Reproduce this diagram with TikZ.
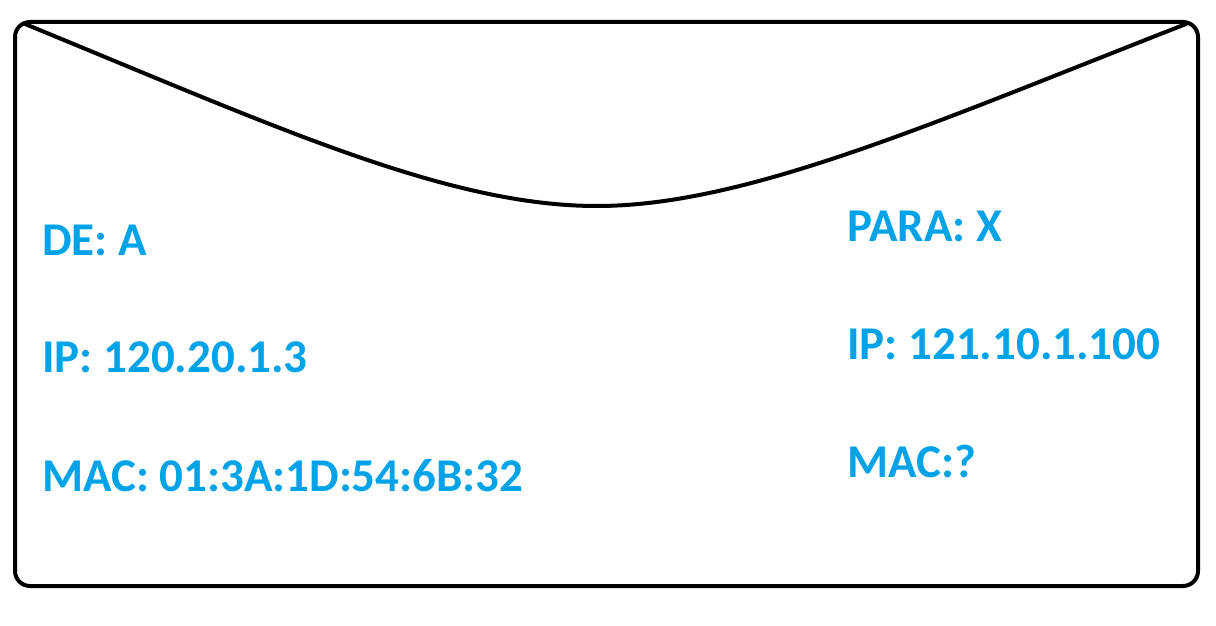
\documentclass[tikz,border=0pt]{standalone}
\usepackage{fontspec}
\setmainfont{Carlito}
\definecolor{txtblue}{RGB}{0,162,232}
\tikzset{
  lbl/.style={anchor=base west, inner sep=0pt, text=txtblue, font=\fontsize{47}{56}\selectfont\bfseries},
  outline/.style={draw=black, line width=4pt, rounded corners=15pt},
  flap/.style={draw=black, line width=4pt, line cap=round}
}
\begin{document}
\begin{tikzpicture}[x=1pt,y=-1pt]
\useasboundingbox (0,0) rectangle (1216,626);
\draw[outline] (15,22) rectangle (1198,586);
\coordinate (fl) at (25,24);
\coordinate (fm) at (597,206);
\coordinate (fr) at (1186,24);
\draw[flap] (fl) .. controls (275,126.5) and (447,206) .. (fm)
  .. controls (747,206) and (936,121.5) .. (fr);
\node[lbl] (de) at (42,255) {DE: A};
\node[lbl] (ipa) at (42,372) {IP: 120.20.1.3};
\node[lbl] (maca) at (42,491) {MAC: 01:3A:1D:54:6B:32};
\node[lbl] (para) at (847,241) {PARA: X};
\node[lbl] (ipx) at (847,359) {IP: 121.10.1.100};
\node[lbl] (macx) at (847,477) {MAC:?};
\end{tikzpicture}
\end{document}
